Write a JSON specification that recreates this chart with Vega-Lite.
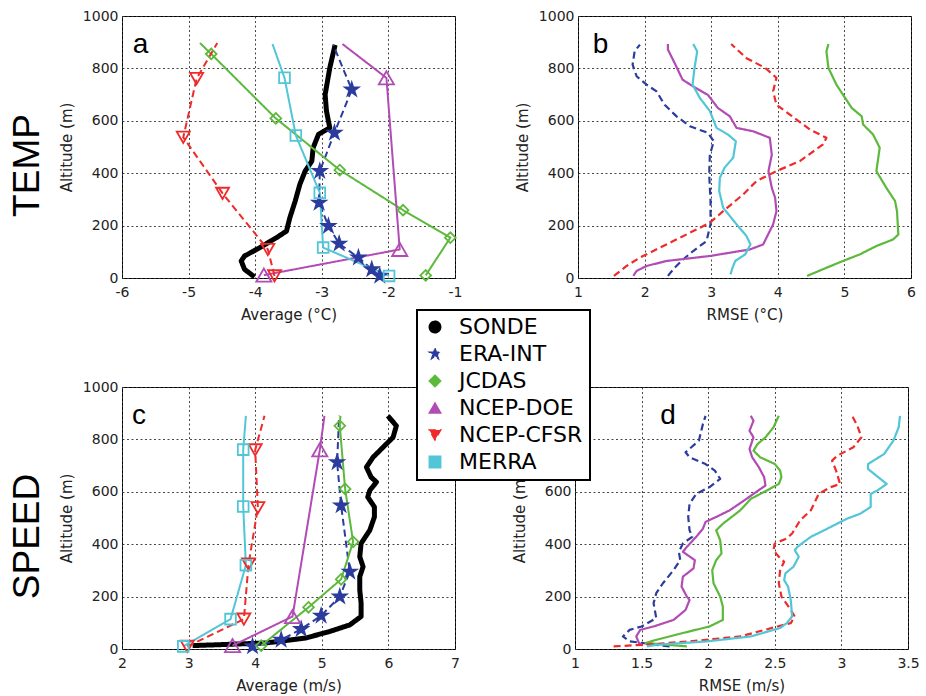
{
  "$schema": "https://vega.github.io/schema/vega-lite/v6.json",
  "background": "white",
  "padding": {"left": 8, "top": 8, "right": 3, "bottom": 1},
  "config": {
    "font": "DejaVu Sans",
    "view": {"stroke": "black", "strokeWidth": 1},
    "legend": {"strokeWidth": 2},
    "axis": {"labelFont": "DejaVu Sans", "labelFontSize": 14, "labelColor": "#222", "labelFlush": false, "titleFont": "DejaVu Sans", "titleFontSize": 15, "titleFontWeight": "normal", "titleColor": "#222", "ticks": false, "domain": false, "grid": true, "gridColor": "#333", "gridDash": [2, 2.5], "gridWidth": 0.9, "gridOpacity": 1},
    "axisY": {"labelPadding": 4, "titlePadding": 8},
    "axisX": {"labelPadding": 7, "titlePadding": 8},
    "text": {"font": "Liberation Sans", "fontSize": 28, "color": "black", "align": "left", "baseline": "alphabetic"}
  },
  "datasets": {
    "ta": [
      {"s":"SONDE","alt":890,"v":-2.80},{"s":"SONDE","alt":802,"v":-2.88},{"s":"SONDE","alt":700,"v":-2.95},{"s":"SONDE","alt":637,"v":-2.93},{"s":"SONDE","alt":573,"v":-2.88},{"s":"SONDE","alt":548,"v":-3.05},{"s":"SONDE","alt":497,"v":-3.13},{"s":"SONDE","alt":446,"v":-3.15},{"s":"SONDE","alt":408,"v":-3.25},{"s":"SONDE","alt":357,"v":-3.33},{"s":"SONDE","alt":293,"v":-3.40},{"s":"SONDE","alt":230,"v":-3.48},{"s":"SONDE","alt":179,"v":-3.53},{"s":"SONDE","alt":154,"v":-3.68},{"s":"SONDE","alt":116,"v":-3.93},{"s":"SONDE","alt":84,"v":-4.16},{"s":"SONDE","alt":65,"v":-4.21},{"s":"SONDE","alt":33,"v":-4.16},{"s":"SONDE","alt":4,"v":-4.01},
      {"s":"ERA-INT","alt":891,"v":-2.83},{"s":"ERA-INT","alt":719,"v":-2.55},{"s":"ERA-INT","alt":554,"v":-2.81},{"s":"ERA-INT","alt":408,"v":-3.03},{"s":"ERA-INT","alt":287,"v":-3.04},{"s":"ERA-INT","alt":198,"v":-2.90},{"s":"ERA-INT","alt":131,"v":-2.74},{"s":"ERA-INT","alt":78,"v":-2.45},{"s":"ERA-INT","alt":33,"v":-2.25},{"s":"ERA-INT","alt":8,"v":-2.13},
      {"s":"JCDAS","alt":897,"v":-4.83},{"s":"JCDAS","alt":855,"v":-4.66},{"s":"JCDAS","alt":609,"v":-3.69},{"s":"JCDAS","alt":412,"v":-2.73},{"s":"JCDAS","alt":259,"v":-1.78},{"s":"JCDAS","alt":154,"v":-1.07},{"s":"JCDAS","alt":10,"v":-1.44},
      {"s":"NCEP-DOE","alt":893,"v":-2.69},{"s":"NCEP-DOE","alt":764,"v":-2.03},{"s":"NCEP-DOE","alt":109,"v":-1.83},{"s":"NCEP-DOE","alt":11,"v":-3.87},
      {"s":"NCEP-CFSR","alt":897,"v":-4.57},{"s":"NCEP-CFSR","alt":761,"v":-4.88},{"s":"NCEP-CFSR","alt":537,"v":-5.08},{"s":"NCEP-CFSR","alt":323,"v":-4.49},{"s":"NCEP-CFSR","alt":109,"v":-3.81},{"s":"NCEP-CFSR","alt":8,"v":-3.71},
      {"s":"MERRA","alt":893,"v":-3.74},{"s":"MERRA","alt":764,"v":-3.56},{"s":"MERRA","alt":544,"v":-3.39},{"s":"MERRA","alt":325,"v":-3.03},{"s":"MERRA","alt":116,"v":-2.98},{"s":"MERRA","alt":8,"v":-1.99}
    ],
    "tr": [
      {"s":"ERA-INT","alt":891,"v":1.93},{"s":"ERA-INT","alt":865,"v":1.85},{"s":"ERA-INT","alt":814,"v":1.82},{"s":"ERA-INT","alt":770,"v":1.88},{"s":"ERA-INT","alt":738,"v":2.03},{"s":"ERA-INT","alt":712,"v":2.18},{"s":"ERA-INT","alt":661,"v":2.30},{"s":"ERA-INT","alt":617,"v":2.48},{"s":"ERA-INT","alt":579,"v":2.68},{"s":"ERA-INT","alt":554,"v":2.95},{"s":"ERA-INT","alt":522,"v":3.04},{"s":"ERA-INT","alt":471,"v":2.98},{"s":"ERA-INT","alt":395,"v":2.97},{"s":"ERA-INT","alt":294,"v":2.99},{"s":"ERA-INT","alt":205,"v":2.99},{"s":"ERA-INT","alt":141,"v":2.93},{"s":"ERA-INT","alt":103,"v":2.73},{"s":"ERA-INT","alt":71,"v":2.58},{"s":"ERA-INT","alt":39,"v":2.45},{"s":"ERA-INT","alt":8,"v":2.35},
      {"s":"NCEP-DOE","alt":893,"v":2.35},{"s":"NCEP-DOE","alt":872,"v":2.35},{"s":"NCEP-DOE","alt":821,"v":2.45},{"s":"NCEP-DOE","alt":757,"v":2.57},{"s":"NCEP-DOE","alt":731,"v":2.73},{"s":"NCEP-DOE","alt":699,"v":2.95},{"s":"NCEP-DOE","alt":649,"v":3.10},{"s":"NCEP-DOE","alt":617,"v":3.28},{"s":"NCEP-DOE","alt":573,"v":3.38},{"s":"NCEP-DOE","alt":560,"v":3.63},{"s":"NCEP-DOE","alt":535,"v":3.88},{"s":"NCEP-DOE","alt":471,"v":3.91},{"s":"NCEP-DOE","alt":433,"v":3.88},{"s":"NCEP-DOE","alt":408,"v":3.86},{"s":"NCEP-DOE","alt":344,"v":3.91},{"s":"NCEP-DOE","alt":306,"v":3.96},{"s":"NCEP-DOE","alt":255,"v":3.98},{"s":"NCEP-DOE","alt":205,"v":3.93},{"s":"NCEP-DOE","alt":128,"v":3.78},{"s":"NCEP-DOE","alt":109,"v":3.58},{"s":"NCEP-DOE","alt":84,"v":2.98},{"s":"NCEP-DOE","alt":65,"v":2.33},{"s":"NCEP-DOE","alt":46,"v":2.03},{"s":"NCEP-DOE","alt":27,"v":1.88},{"s":"NCEP-DOE","alt":8,"v":1.83},
      {"s":"MERRA","alt":893,"v":2.73},{"s":"MERRA","alt":865,"v":2.79},{"s":"MERRA","alt":802,"v":2.75},{"s":"MERRA","alt":738,"v":2.72},{"s":"MERRA","alt":687,"v":2.83},{"s":"MERRA","alt":637,"v":2.98},{"s":"MERRA","alt":573,"v":3.08},{"s":"MERRA","alt":548,"v":3.25},{"s":"MERRA","alt":522,"v":3.37},{"s":"MERRA","alt":459,"v":3.33},{"s":"MERRA","alt":421,"v":3.20},{"s":"MERRA","alt":382,"v":3.13},{"s":"MERRA","alt":332,"v":3.12},{"s":"MERRA","alt":268,"v":3.18},{"s":"MERRA","alt":205,"v":3.38},{"s":"MERRA","alt":160,"v":3.53},{"s":"MERRA","alt":128,"v":3.59},{"s":"MERRA","alt":90,"v":3.51},{"s":"MERRA","alt":65,"v":3.36},{"s":"MERRA","alt":39,"v":3.32},{"s":"MERRA","alt":14,"v":3.29},
      {"s":"NCEP-CFSR","alt":893,"v":3.30},{"s":"NCEP-CFSR","alt":839,"v":3.53},{"s":"NCEP-CFSR","alt":802,"v":3.81},{"s":"NCEP-CFSR","alt":764,"v":3.98},{"s":"NCEP-CFSR","alt":713,"v":3.93},{"s":"NCEP-CFSR","alt":661,"v":3.98},{"s":"NCEP-CFSR","alt":624,"v":4.18},{"s":"NCEP-CFSR","alt":567,"v":4.48},{"s":"NCEP-CFSR","alt":535,"v":4.73},{"s":"NCEP-CFSR","alt":510,"v":4.68},{"s":"NCEP-CFSR","alt":446,"v":4.33},{"s":"NCEP-CFSR","alt":408,"v":3.98},{"s":"NCEP-CFSR","alt":370,"v":3.68},{"s":"NCEP-CFSR","alt":319,"v":3.48},{"s":"NCEP-CFSR","alt":255,"v":3.18},{"s":"NCEP-CFSR","alt":211,"v":2.98},{"s":"NCEP-CFSR","alt":179,"v":2.73},{"s":"NCEP-CFSR","alt":141,"v":2.43},{"s":"NCEP-CFSR","alt":103,"v":2.13},{"s":"NCEP-CFSR","alt":78,"v":1.93},{"s":"NCEP-CFSR","alt":46,"v":1.73},{"s":"NCEP-CFSR","alt":8,"v":1.54},
      {"s":"JCDAS","alt":893,"v":4.76},{"s":"JCDAS","alt":865,"v":4.73},{"s":"JCDAS","alt":802,"v":4.76},{"s":"JCDAS","alt":738,"v":4.88},{"s":"JCDAS","alt":699,"v":4.98},{"s":"JCDAS","alt":649,"v":5.11},{"s":"JCDAS","alt":617,"v":5.26},{"s":"JCDAS","alt":586,"v":5.28},{"s":"JCDAS","alt":548,"v":5.43},{"s":"JCDAS","alt":497,"v":5.53},{"s":"JCDAS","alt":408,"v":5.48},{"s":"JCDAS","alt":344,"v":5.63},{"s":"JCDAS","alt":294,"v":5.76},{"s":"JCDAS","alt":255,"v":5.79},{"s":"JCDAS","alt":166,"v":5.81},{"s":"JCDAS","alt":147,"v":5.73},{"s":"JCDAS","alt":122,"v":5.48},{"s":"JCDAS","alt":90,"v":5.23},{"s":"JCDAS","alt":65,"v":4.98},{"s":"JCDAS","alt":39,"v":4.73},{"s":"JCDAS","alt":8,"v":4.44}
    ],
    "sa": [
      {"s":"SONDE","alt":890,"v":5.99},{"s":"SONDE","alt":852,"v":6.12},{"s":"SONDE","alt":808,"v":6.07},{"s":"SONDE","alt":770,"v":5.92},{"s":"SONDE","alt":732,"v":5.77},{"s":"SONDE","alt":694,"v":5.67},{"s":"SONDE","alt":656,"v":5.74},{"s":"SONDE","alt":637,"v":5.82},{"s":"SONDE","alt":605,"v":5.72},{"s":"SONDE","alt":580,"v":5.69},{"s":"SONDE","alt":542,"v":5.79},{"s":"SONDE","alt":504,"v":5.79},{"s":"SONDE","alt":453,"v":5.72},{"s":"SONDE","alt":403,"v":5.59},{"s":"SONDE","alt":352,"v":5.57},{"s":"SONDE","alt":314,"v":5.62},{"s":"SONDE","alt":276,"v":5.57},{"s":"SONDE","alt":225,"v":5.57},{"s":"SONDE","alt":175,"v":5.59},{"s":"SONDE","alt":124,"v":5.59},{"s":"SONDE","alt":92,"v":5.42},{"s":"SONDE","alt":67,"v":5.12},{"s":"SONDE","alt":42,"v":4.76},{"s":"SONDE","alt":23,"v":4.16},{"s":"SONDE","alt":16,"v":3.41},{"s":"SONDE","alt":13,"v":3.06},
      {"s":"ERA-INT","alt":890,"v":5.26},{"s":"ERA-INT","alt":713,"v":5.23},{"s":"ERA-INT","alt":548,"v":5.29},{"s":"ERA-INT","alt":295,"v":5.42},{"s":"ERA-INT","alt":200,"v":5.27},{"s":"ERA-INT","alt":127,"v":4.99},{"s":"ERA-INT","alt":76,"v":4.69},{"s":"ERA-INT","alt":35,"v":4.39},{"s":"ERA-INT","alt":10,"v":3.96},
      {"s":"JCDAS","alt":890,"v":5.28},{"s":"JCDAS","alt":852,"v":5.27},{"s":"JCDAS","alt":611,"v":5.35},{"s":"JCDAS","alt":409,"v":5.47},{"s":"JCDAS","alt":266,"v":5.29},{"s":"JCDAS","alt":159,"v":4.80},{"s":"JCDAS","alt":13,"v":4.09},
      {"s":"NCEP-DOE","alt":890,"v":5.04},{"s":"NCEP-DOE","alt":760,"v":4.97},{"s":"NCEP-DOE","alt":124,"v":4.56},{"s":"NCEP-DOE","alt":13,"v":3.66},
      {"s":"NCEP-CFSR","alt":890,"v":4.14},{"s":"NCEP-CFSR","alt":760,"v":4.00},{"s":"NCEP-CFSR","alt":539,"v":4.04},{"s":"NCEP-CFSR","alt":324,"v":3.90},{"s":"NCEP-CFSR","alt":114,"v":3.83},{"s":"NCEP-CFSR","alt":10,"v":2.98},
      {"s":"MERRA","alt":890,"v":3.86},{"s":"MERRA","alt":761,"v":3.82},{"s":"MERRA","alt":544,"v":3.82},{"s":"MERRA","alt":320,"v":3.86},{"s":"MERRA","alt":114,"v":3.63},{"s":"MERRA","alt":10,"v":2.92}
    ],
    "sr": [
      {"s":"ERA-INT","alt":890,"v":1.98},{"s":"ERA-INT","alt":858,"v":1.96},{"s":"ERA-INT","alt":795,"v":1.93},{"s":"ERA-INT","alt":751,"v":1.83},{"s":"ERA-INT","alt":732,"v":1.86},{"s":"ERA-INT","alt":706,"v":1.98},{"s":"ERA-INT","alt":681,"v":2.05},{"s":"ERA-INT","alt":649,"v":2.09},{"s":"ERA-INT","alt":618,"v":2.01},{"s":"ERA-INT","alt":592,"v":1.91},{"s":"ERA-INT","alt":554,"v":1.86},{"s":"ERA-INT","alt":504,"v":1.85},{"s":"ERA-INT","alt":453,"v":1.86},{"s":"ERA-INT","alt":428,"v":1.88},{"s":"ERA-INT","alt":403,"v":1.81},{"s":"ERA-INT","alt":371,"v":1.78},{"s":"ERA-INT","alt":339,"v":1.79},{"s":"ERA-INT","alt":301,"v":1.74},{"s":"ERA-INT","alt":251,"v":1.66},{"s":"ERA-INT","alt":213,"v":1.61},{"s":"ERA-INT","alt":175,"v":1.59},{"s":"ERA-INT","alt":118,"v":1.61},{"s":"ERA-INT","alt":86,"v":1.50},{"s":"ERA-INT","alt":73,"v":1.41},{"s":"ERA-INT","alt":48,"v":1.36},{"s":"ERA-INT","alt":29,"v":1.41},{"s":"ERA-INT","alt":23,"v":1.51},{"s":"ERA-INT","alt":16,"v":1.61},{"s":"ERA-INT","alt":10,"v":1.71},
      {"s":"NCEP-DOE","alt":890,"v":2.32},{"s":"NCEP-DOE","alt":871,"v":2.34},{"s":"NCEP-DOE","alt":833,"v":2.31},{"s":"NCEP-DOE","alt":808,"v":2.34},{"s":"NCEP-DOE","alt":763,"v":2.31},{"s":"NCEP-DOE","alt":732,"v":2.33},{"s":"NCEP-DOE","alt":694,"v":2.38},{"s":"NCEP-DOE","alt":656,"v":2.42},{"s":"NCEP-DOE","alt":624,"v":2.43},{"s":"NCEP-DOE","alt":592,"v":2.34},{"s":"NCEP-DOE","alt":567,"v":2.27},{"s":"NCEP-DOE","alt":529,"v":2.16},{"s":"NCEP-DOE","alt":504,"v":2.06},{"s":"NCEP-DOE","alt":485,"v":1.98},{"s":"NCEP-DOE","alt":459,"v":1.96},{"s":"NCEP-DOE","alt":428,"v":1.91},{"s":"NCEP-DOE","alt":390,"v":1.84},{"s":"NCEP-DOE","alt":371,"v":1.81},{"s":"NCEP-DOE","alt":339,"v":1.90},{"s":"NCEP-DOE","alt":308,"v":1.89},{"s":"NCEP-DOE","alt":276,"v":1.81},{"s":"NCEP-DOE","alt":238,"v":1.80},{"s":"NCEP-DOE","alt":200,"v":1.84},{"s":"NCEP-DOE","alt":187,"v":1.86},{"s":"NCEP-DOE","alt":149,"v":1.83},{"s":"NCEP-DOE","alt":111,"v":1.74},{"s":"NCEP-DOE","alt":86,"v":1.59},{"s":"NCEP-DOE","alt":73,"v":1.49},{"s":"NCEP-DOE","alt":48,"v":1.46},{"s":"NCEP-DOE","alt":23,"v":1.48},{"s":"NCEP-DOE","alt":13,"v":1.51},
      {"s":"JCDAS","alt":890,"v":2.53},{"s":"JCDAS","alt":846,"v":2.49},{"s":"JCDAS","alt":808,"v":2.43},{"s":"JCDAS","alt":782,"v":2.37},{"s":"JCDAS","alt":757,"v":2.34},{"s":"JCDAS","alt":732,"v":2.39},{"s":"JCDAS","alt":706,"v":2.50},{"s":"JCDAS","alt":681,"v":2.54},{"s":"JCDAS","alt":656,"v":2.55},{"s":"JCDAS","alt":630,"v":2.53},{"s":"JCDAS","alt":605,"v":2.44},{"s":"JCDAS","alt":573,"v":2.32},{"s":"JCDAS","alt":529,"v":2.24},{"s":"JCDAS","alt":478,"v":2.11},{"s":"JCDAS","alt":453,"v":2.06},{"s":"JCDAS","alt":415,"v":2.09},{"s":"JCDAS","alt":365,"v":2.10},{"s":"JCDAS","alt":339,"v":2.06},{"s":"JCDAS","alt":301,"v":2.03},{"s":"JCDAS","alt":251,"v":2.04},{"s":"JCDAS","alt":200,"v":2.09},{"s":"JCDAS","alt":162,"v":2.11},{"s":"JCDAS","alt":111,"v":2.11},{"s":"JCDAS","alt":86,"v":2.01},{"s":"JCDAS","alt":61,"v":1.81},{"s":"JCDAS","alt":35,"v":1.61},{"s":"JCDAS","alt":23,"v":1.53},{"s":"JCDAS","alt":10,"v":1.84},
      {"s":"NCEP-CFSR","alt":890,"v":3.08},{"s":"NCEP-CFSR","alt":852,"v":3.12},{"s":"NCEP-CFSR","alt":808,"v":3.15},{"s":"NCEP-CFSR","alt":770,"v":3.09},{"s":"NCEP-CFSR","alt":738,"v":2.97},{"s":"NCEP-CFSR","alt":719,"v":2.93},{"s":"NCEP-CFSR","alt":681,"v":2.96},{"s":"NCEP-CFSR","alt":630,"v":2.99},{"s":"NCEP-CFSR","alt":618,"v":2.92},{"s":"NCEP-CFSR","alt":592,"v":2.83},{"s":"NCEP-CFSR","alt":529,"v":2.77},{"s":"NCEP-CFSR","alt":491,"v":2.69},{"s":"NCEP-CFSR","alt":441,"v":2.63},{"s":"NCEP-CFSR","alt":422,"v":2.59},{"s":"NCEP-CFSR","alt":403,"v":2.50},{"s":"NCEP-CFSR","alt":377,"v":2.49},{"s":"NCEP-CFSR","alt":352,"v":2.53},{"s":"NCEP-CFSR","alt":333,"v":2.57},{"s":"NCEP-CFSR","alt":301,"v":2.54},{"s":"NCEP-CFSR","alt":251,"v":2.53},{"s":"NCEP-CFSR","alt":200,"v":2.55},{"s":"NCEP-CFSR","alt":149,"v":2.62},{"s":"NCEP-CFSR","alt":124,"v":2.65},{"s":"NCEP-CFSR","alt":99,"v":2.62},{"s":"NCEP-CFSR","alt":86,"v":2.52},{"s":"NCEP-CFSR","alt":48,"v":2.24},{"s":"NCEP-CFSR","alt":29,"v":1.86},{"s":"NCEP-CFSR","alt":16,"v":1.51},{"s":"NCEP-CFSR","alt":10,"v":1.29},
      {"s":"MERRA","alt":890,"v":3.44},{"s":"MERRA","alt":846,"v":3.43},{"s":"MERRA","alt":795,"v":3.39},{"s":"MERRA","alt":744,"v":3.32},{"s":"MERRA","alt":706,"v":3.20},{"s":"MERRA","alt":687,"v":3.20},{"s":"MERRA","alt":630,"v":3.34},{"s":"MERRA","alt":605,"v":3.27},{"s":"MERRA","alt":592,"v":3.22},{"s":"MERRA","alt":542,"v":3.22},{"s":"MERRA","alt":516,"v":3.14},{"s":"MERRA","alt":497,"v":3.04},{"s":"MERRA","alt":453,"v":2.87},{"s":"MERRA","alt":428,"v":2.77},{"s":"MERRA","alt":390,"v":2.67},{"s":"MERRA","alt":377,"v":2.65},{"s":"MERRA","alt":352,"v":2.68},{"s":"MERRA","alt":314,"v":2.64},{"s":"MERRA","alt":289,"v":2.58},{"s":"MERRA","alt":263,"v":2.57},{"s":"MERRA","alt":238,"v":2.60},{"s":"MERRA","alt":187,"v":2.62},{"s":"MERRA","alt":124,"v":2.63},{"s":"MERRA","alt":99,"v":2.59},{"s":"MERRA","alt":80,"v":2.54},{"s":"MERRA","alt":48,"v":2.32},{"s":"MERRA","alt":29,"v":1.99},{"s":"MERRA","alt":16,"v":1.61},{"s":"MERRA","alt":10,"v":1.54}
    ]
  },
  "spacing": 56,
  "vconcat": [
    {
      "title": {"text": "TEMP", "orient": "left", "anchor": "middle", "font": "Liberation Sans", "fontSize": 37, "fontWeight": "normal", "color": "black", "offset": 12},
      "spacing": 51,
      "hconcat": [
        {
          "width": 333, "height": 262,
          "layer": [
            {
              "data": {"name": "ta"},
              "mark": {"type": "line", "strokeJoin": "round"},
              "encoding": {
                "x": {"field": "v", "type": "quantitative", "scale": {"domain": [-6, -1], "nice": false, "zero": false}, "axis": {"values": [-6, -5, -4, -3, -2, -1], "labelExpr": "'' + datum.value", "title": "Average (°C)"}},
                "y": {"field": "alt", "type": "quantitative", "scale": {"domain": [0, 1000], "nice": false}, "axis": {"values": [0, 200, 400, 600, 800, 1000], "labelExpr": "'' + datum.value", "title": "Altitude (m)"}},
                "order": {"field": "alt", "type": "quantitative"},
                "color": {"field": "s", "type": "nominal", "scale": {"domain": ["SONDE", "ERA-INT", "JCDAS", "NCEP-DOE", "NCEP-CFSR", "MERRA"], "range": ["#000000", "#2B3C9E", "#5DB93C", "#B24CB5", "#EE2B2B", "#52C6D6"]},
                  "legend": {"title": null, "orient": "none", "legendX": 295, "legendY": 294, "direction": "vertical", "fillColor": "white", "strokeColor": "black", "padding": 7, "labelFont": "DejaVu Sans", "labelFontSize": 22, "labelColor": "black", "labelOffset": 13, "labelLimit": 300, "symbolSize": 1764, "symbolType": "stroke", "clipHeight": 20, "rowPadding": 5, "zindex": 5,
                    "encode": {"symbols": {"update": {
                      "size": {"value": 130},
                      "stroke": {"scale": "color", "field": "value"},
                      "fill": {"scale": "color", "field": "value"},
                      "strokeWidth": {"value": 1.5},
                      "strokeDash": {"value": [1, 0]},
                      "opacity": {"value": 1}
                    }}}}},
                "strokeDash": {"field": "s", "type": "nominal", "scale": {"domain": ["SONDE", "ERA-INT", "JCDAS", "NCEP-DOE", "NCEP-CFSR", "MERRA"], "range": [[1, 0], [7, 4], [1, 0], [1, 0], [7, 4], [1, 0]]}, "legend": null},
                "strokeWidth": {"condition": {"test": "datum.s === 'SONDE'", "value": 5}, "value": 2}
              }
            },
            {
              "data": {"name": "ta"},
              "transform": [{"filter": "datum.alt < 880 && datum.s !== 'SONDE'"}],
              "mark": {"type": "point", "filled": false, "strokeWidth": 1.8, "opacity": 1},
              "encoding": {
                "x": {"field": "v", "type": "quantitative"},
                "y": {"field": "alt", "type": "quantitative"},
                "color": {"field": "s", "type": "nominal", "legend": null},
                "shape": {"field": "s", "type": "nominal", "scale": {"domain": ["SONDE", "ERA-INT", "JCDAS", "NCEP-DOE", "NCEP-CFSR", "MERRA"], "range": ["circle", "M0,-1L0.225,-0.309L0.951,-0.309L0.363,0.118L0.588,0.809L0,0.382L-0.588,0.809L-0.363,0.118L-0.951,-0.309L-0.225,-0.309Z", "diamond", "triangle-up", "triangle-down", "square"]}, "legend": null},
                "fill": {"condition": {"test": "datum.s === 'ERA-INT'", "value": "#2B3C9E"}, "value": "transparent"},
                "size": {"condition": [{"test": "datum.s === 'ERA-INT'", "value": 190}, {"test": "datum.s === 'NCEP-DOE'", "value": 230}, {"test": "datum.s === 'NCEP-CFSR'", "value": 170}], "value": 115}
              }
            },
            {
              "data": {"values": [{}]},
              "mark": {"type": "text"},
              "encoding": {"x": {"datum": -5.84}, "y": {"datum": 858}, "text": {"value": "a"}}
            }
          ]
        },
        {
          "width": 333, "height": 262,
          "layer": [
            {
              "data": {"name": "tr"},
              "mark": {"type": "line", "strokeJoin": "round"},
              "encoding": {
                "x": {"field": "v", "type": "quantitative", "scale": {"domain": [1, 6], "nice": false, "zero": false}, "axis": {"values": [1, 2, 3, 4, 5, 6], "labelExpr": "'' + datum.value", "title": "RMSE (°C)"}},
                "y": {"field": "alt", "type": "quantitative", "scale": {"domain": [0, 1000], "nice": false}, "axis": {"values": [0, 200, 400, 600, 800, 1000], "labelExpr": "'' + datum.value", "title": "Altitude (m)"}},
                "order": {"field": "alt", "type": "quantitative"},
                "color": {"field": "s", "type": "nominal"},
                "strokeDash": {"field": "s", "type": "nominal", "legend": null},
                "strokeWidth": {"value": 2.2}
              }
            },
            {
              "data": {"values": [{}]},
              "mark": {"type": "text"},
              "encoding": {"x": {"datum": 1.22}, "y": {"datum": 858}, "text": {"value": "b"}}
            }
          ]
        }
      ]
    },
    {
      "title": {"text": "SPEED", "orient": "left", "anchor": "middle", "font": "Liberation Sans", "fontSize": 37, "fontWeight": "normal", "color": "black", "offset": 12},
      "spacing": 51,
      "hconcat": [
        {
          "width": 333, "height": 262,
          "layer": [
            {
              "data": {"name": "sa"},
              "mark": {"type": "line", "strokeJoin": "round"},
              "encoding": {
                "x": {"field": "v", "type": "quantitative", "scale": {"domain": [2, 7], "nice": false, "zero": false}, "axis": {"values": [2, 3, 4, 5, 6, 7], "labelExpr": "'' + datum.value", "title": "Average (m/s)"}},
                "y": {"field": "alt", "type": "quantitative", "scale": {"domain": [0, 1000], "nice": false}, "axis": {"values": [0, 200, 400, 600, 800, 1000], "labelExpr": "'' + datum.value", "title": "Altitude (m)"}},
                "order": {"field": "alt", "type": "quantitative"},
                "color": {"field": "s", "type": "nominal"},
                "strokeDash": {"field": "s", "type": "nominal", "legend": null},
                "strokeWidth": {"condition": {"test": "datum.s === 'SONDE'", "value": 5}, "value": 2}
              }
            },
            {
              "data": {"name": "sa"},
              "transform": [{"filter": "datum.alt < 880 && datum.s !== 'SONDE'"}],
              "mark": {"type": "point", "filled": false, "strokeWidth": 1.8, "opacity": 1},
              "encoding": {
                "x": {"field": "v", "type": "quantitative"},
                "y": {"field": "alt", "type": "quantitative"},
                "color": {"field": "s", "type": "nominal", "legend": null},
                "shape": {"field": "s", "type": "nominal", "legend": null},
                "fill": {"condition": {"test": "datum.s === 'ERA-INT'", "value": "#2B3C9E"}, "value": "transparent"},
                "size": {"condition": [{"test": "datum.s === 'ERA-INT'", "value": 190}, {"test": "datum.s === 'NCEP-DOE'", "value": 230}, {"test": "datum.s === 'NCEP-CFSR'", "value": 170}], "value": 115}
              }
            },
            {
              "data": {"values": [{}]},
              "mark": {"type": "text"},
              "encoding": {"x": {"datum": 2.15}, "y": {"datum": 860}, "text": {"value": "c"}}
            }
          ]
        },
        {
          "width": 333, "height": 262,
          "layer": [
            {
              "data": {"name": "sr"},
              "mark": {"type": "line", "strokeJoin": "round"},
              "encoding": {
                "x": {"field": "v", "type": "quantitative", "scale": {"domain": [1, 3.5], "nice": false, "zero": false}, "axis": {"values": [1, 1.5, 2, 2.5, 3, 3.5], "labelExpr": "'' + datum.value", "title": "RMSE (m/s)"}},
                "y": {"field": "alt", "type": "quantitative", "scale": {"domain": [0, 1000], "nice": false}, "axis": {"values": [0, 200, 400, 600, 800, 1000], "labelExpr": "'' + datum.value", "title": "Altitude (m)"}},
                "order": {"field": "alt", "type": "quantitative"},
                "color": {"field": "s", "type": "nominal"},
                "strokeDash": {"field": "s", "type": "nominal", "legend": null},
                "strokeWidth": {"value": 2.2}
              }
            },
            {
              "data": {"values": [{}]},
              "mark": {"type": "text"},
              "encoding": {"x": {"datum": 1.64}, "y": {"datum": 860}, "text": {"value": "d"}}
            }
          ]
        }
      ]
    }
  ]
}
